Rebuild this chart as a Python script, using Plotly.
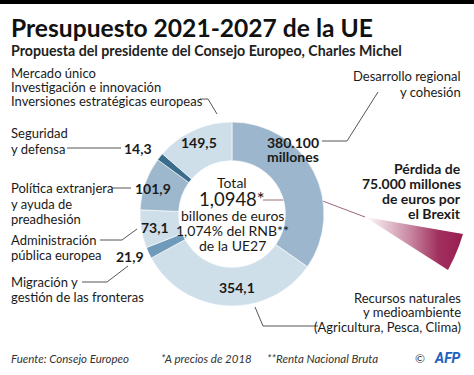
import plotly.graph_objects as go

# ---------------- data ----------------
categories = [
    "Desarrollo regional y cohesión",
    "Recursos naturales y medioambiente",
    "Migración y gestión de las fronteras",
    "Administración pública europea",
    "Política extranjera y ayuda de preadhesión",
    "Seguridad y defensa",
    "Mercado único / Investigación e innovación / Inversiones estratégicas europeas",
]
values = [380.1, 354.1, 21.9, 73.1, 101.9, 14.3, 149.5]
value_labels = ["380.100|millones", "354,1", "21,9", "73,1", "101,9", "14,3", "149,5"]
slice_colors = ["#9bb6cd", "#cfdfea", "#6f9aba", "#cfdfea", "#9db7cd", "#3b6c8c", "#cfdfea"]

total_label = "1,0948*"
brexit_loss = "75.000"

W, H = 474, 375
FONT = "Lato"
TXT = "#1a1a1a"

# donut geometry (pixels)
cx, cy, R = 232, 214, 92

fig = go.Figure()

fig.add_trace(go.Pie(
    values=values, labels=categories, sort=False, direction="clockwise",
    rotation=0, hole=0.58, textinfo="none", hoverinfo="label+value",
    marker=dict(colors=slice_colors, line=dict(color="white", width=0.6)),
    domain=dict(x=[(cx - R) / W, (cx + R) / W], y=[(H - cy - R) / H, (H - cy + R) / H]),
    showlegend=False,
))

# Brexit wedge with gradient
wx = [365, 463, 459, 454, 448, 365]
wy = [217, 234, 246, 258, 270, 217]
fig.add_trace(go.Scatter(
    x=wx, y=wy, mode="lines", fill="toself", line=dict(width=0),
    fillgradient=dict(type="horizontal",
                      colorscale=[[0, "rgba(255,255,255,1)"], [0.45, "#c98aa3"],
                                  [0.75, "#a1305f"], [1, "#981e50"]]),
    hoverinfo="skip", showlegend=False,
))

# leader lines
leaders = [
    ([200, 208, 217], [99, 99, 114]),
    ([67, 121], [148, 148]),
    ([112, 131], [188, 188]),
    ([100, 122, 137], [240, 240, 229]),
    ([82, 107, 128], [282, 282, 266]),
    ([322, 347, 378], [141, 141, 92]),
    ([318, 263, 255], [326, 326, 307]),
]
for lx, ly in leaders:
    fig.add_trace(go.Scatter(x=lx, y=ly, mode="lines", line=dict(color="#555555", width=1),
                             hoverinfo="skip", showlegend=False))
fig.add_trace(go.Scatter(x=[263, 320, 365], y=[200, 200, 217], mode="lines",
                         line=dict(color="#9a6a78", width=1), hoverinfo="skip", showlegend=False))

ann = []


def txt(x, y, s, size=13, bold=False, italic=False, anchor="left", color=TXT, family=FONT):
    if bold:
        s = "<b>" + s + "</b>"
    if italic:
        s = "<i>" + s + "</i>"
    ann.append(dict(x=x, y=y, xref="x", yref="y", text=s, showarrow=False,
                    xanchor=anchor, yanchor="middle",
                    font=dict(family=family, size=size, color=color)))


def lines(x, y0, dy, parts, **kw):
    for i, p in enumerate(parts):
        txt(x, y0 + i * dy, p, **kw)


# title
txt(9, 27, "Presupuesto 2021-2027 de la UE", size=24.6, bold=True, color="#111111")
txt(9, 50, "Propuesta del presidente del Consejo Europeo, Charles Michel", size=14.2, bold=True, color="#222222")

# left labels
lines(9, 73, 14, ["Mercado único", "Investigación e innovación", "Inversiones estratégicas europeas"])
lines(9, 133, 15.5, ["Seguridad", "y defensa"])
lines(9, 188, 15.5, ["Política extranjera", "y ayuda de", "preadhesión"])
lines(9, 240, 15, ["Administración", "pública europea"])
lines(9, 282, 15, ["Migración y", "gestión de las fronteras"])

# right labels
lines(463, 76, 16, ["Desarrollo regional", "y cohesión"], anchor="right")
lines(463, 168, 15.3, ["Pérdida de", brexit_loss + " millones", "de euros por", "el Brexit"],
      anchor="right", bold=True, size=14)
lines(463, 298, 14.3, ["Recursos naturales", "y medioambiente", "(Agricultura, Pesca, Clima)"], anchor="right")

# values
val_pos = [(293, 142), (237, 287), (130, 256), (155, 227), (153, 188), (138, 148), (199, 142)]
for lab, (vx, vy) in zip(value_labels, val_pos):
    lines(vx, vy, 14.5, lab.split("|"), anchor="center", bold=True, size=14)

# centre
txt(cx, 182, "Total", size=14, anchor="center")
txt(cx, 199, total_label, size=18.5, anchor="center")
lines(cx, 215, 15.3, ["billones de euros", "1,074% del RNB**", "de la UE27"], anchor="center", size=14)

# footer
txt(9, 358, "Fuente: Consejo Europeo", size=11.5, italic=True, color="#333333")
txt(159, 358, "*A precios de 2018", size=11.5, italic=True, color="#333333")
txt(265, 358, "**Renta Nacional Bruta", size=11.5, italic=True, color="#333333")
txt(413, 358, "©", size=12, color="#444444")
txt(463, 358, "<b><i>AFP</i></b>", size=14, anchor="right", color="#1d5fbf", family="Roboto")

fig.update_layout(
    width=W, height=H, margin=dict(l=0, r=0, t=0, b=0),
    paper_bgcolor="white", plot_bgcolor="rgba(0,0,0,0)",
    xaxis=dict(range=[0, W], visible=False, fixedrange=True),
    yaxis=dict(range=[H, 0], visible=False, fixedrange=True),
    annotations=ann,
    shapes=[dict(type="rect", xref="paper", yref="paper", x0=0, x1=1, y0=1 - 4 / H, y1=1,
                 fillcolor="black", line=dict(width=0), layer="above")],
)

fig.write_html("out.html", config={"displayModeBar": False},
               post_script="document.body.style.margin='0';document.body.style.overflow='hidden';")
